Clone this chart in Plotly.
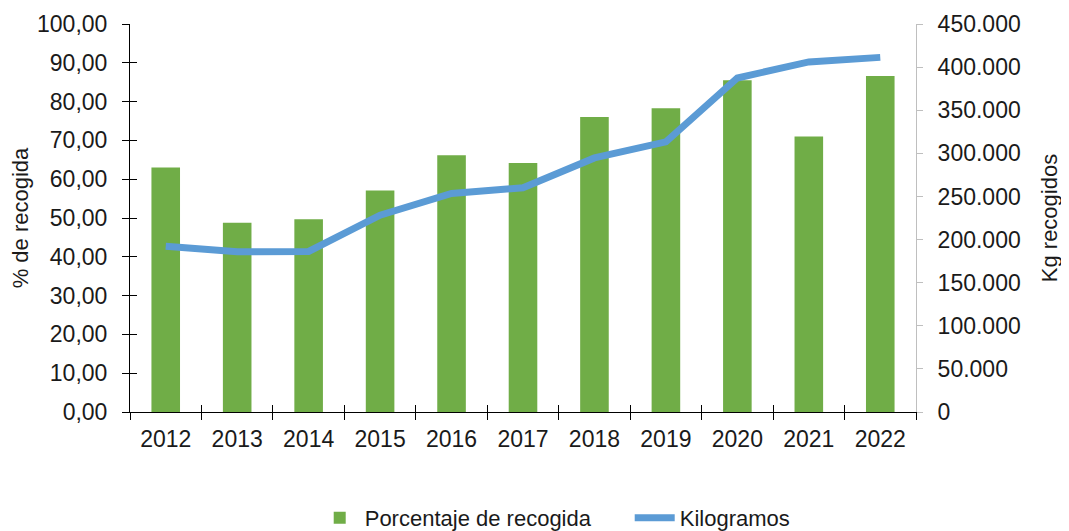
import plotly.graph_objects as go

years = ["2012", "2013", "2014", "2015", "2016", "2017", "2018", "2019", "2020", "2021", "2022"]
pct = [63.0, 48.8, 49.7, 57.1, 66.2, 64.2, 76.0, 78.3, 85.5, 71.0, 86.6]
kg = [192300, 185800, 186200, 228200, 253400, 260000, 294700, 313300, 387400, 406000, 411300]

FONT = "Liberation Sans, Arial, sans-serif"
TXT = "#1a1a1a"
TICK = 23
LEG = 22

fig = go.Figure()
fig.add_trace(go.Bar(x=years, y=pct, name="Porcentaje de recogida",
                     marker=dict(color="#70ad47", line=dict(width=0)),
                     xaxis="x", yaxis="y"))
fig.add_trace(go.Scatter(x=years, y=kg, name="Kilogramos", mode="lines",
                         line=dict(color="#5b9bd5", width=7),
                         xaxis="x", yaxis="y2"))
# helper invisible trace for the inner halves of the crossing ticks
fig.add_trace(go.Scatter(x=years, y=[None] * len(years), mode="lines",
                         showlegend=False, hoverinfo="skip",
                         xaxis="x2", yaxis="y3"))

fig.update_layout(
    width=1061, height=523,
    margin=dict(l=122, r=153, t=16, b=119, autoexpand=False),
    paper_bgcolor="white", plot_bgcolor="white",
    separators=",.",
    font=dict(family=FONT, size=TICK, color=TXT),
    bargap=0.6,
    showlegend=True,
    legend=dict(orientation="h", x=0.235, xanchor="left", y=-0.273, yanchor="middle",
                font=dict(size=LEG, family=FONT, color=TXT), traceorder="normal",
                itemwidth=40, entrywidth=260, entrywidthmode="pixels",
                bgcolor="rgba(0,0,0,0)"),
    xaxis=dict(type="category", categoryarray=years, range=[-0.5, 10.5],
               tickson="boundaries", ticks="outside", ticklen=7, tickcolor="black",
               showline=True, linecolor="black", linewidth=1, showgrid=False,
               zeroline=False, tickfont=dict(size=TICK, family=FONT, color=TXT),
               ticklabelstandoff=6,
               automargin=False, anchor="y"),
    xaxis2=dict(type="category", categoryarray=years, range=[-0.5, 10.5],
                overlaying="x", anchor="y3", tickson="boundaries", ticks="inside",
                ticklen=7, tickcolor="black", showticklabels=False, showline=False,
                showgrid=False, zeroline=False, automargin=False),
    yaxis=dict(range=[0, 100], tick0=0, dtick=10, tickformat=".2f",
               ticks="outside", ticklen=7, tickcolor="black",
               showline=True, linecolor="black", linewidth=1, showgrid=False,
               zeroline=False, tickfont=dict(size=TICK, family=FONT, color=TXT),
               ticklabelstandoff=10,
               title=dict(text="% de recogida", font=dict(size=LEG, family=FONT, color=TXT),
                          standoff=8),
               automargin=False, anchor="x"),
    yaxis3=dict(range=[0, 100], tick0=0, dtick=10, overlaying="y", anchor="x2",
                side="left", ticks="inside", ticklen=7, tickcolor="black",
                showticklabels=False, showline=False, showgrid=False, zeroline=False,
                automargin=False),
    yaxis2=dict(range=[0, 450000], tick0=0, dtick=50000, tickformat=",d",
                overlaying="y", side="right", anchor="x",
                ticks="outside", ticklen=6, tickcolor="#bfbfbf",
                showline=True, linecolor="#bfbfbf", linewidth=1, showgrid=False,
                zeroline=False, tickfont=dict(size=TICK, family=FONT, color=TXT),
                ticklabelstandoff=10,
                title=dict(text="Kg recogidos", font=dict(size=LEG, family=FONT, color=TXT),
                           standoff=21),
                automargin=False),
)

fig.write_html("out.html")
